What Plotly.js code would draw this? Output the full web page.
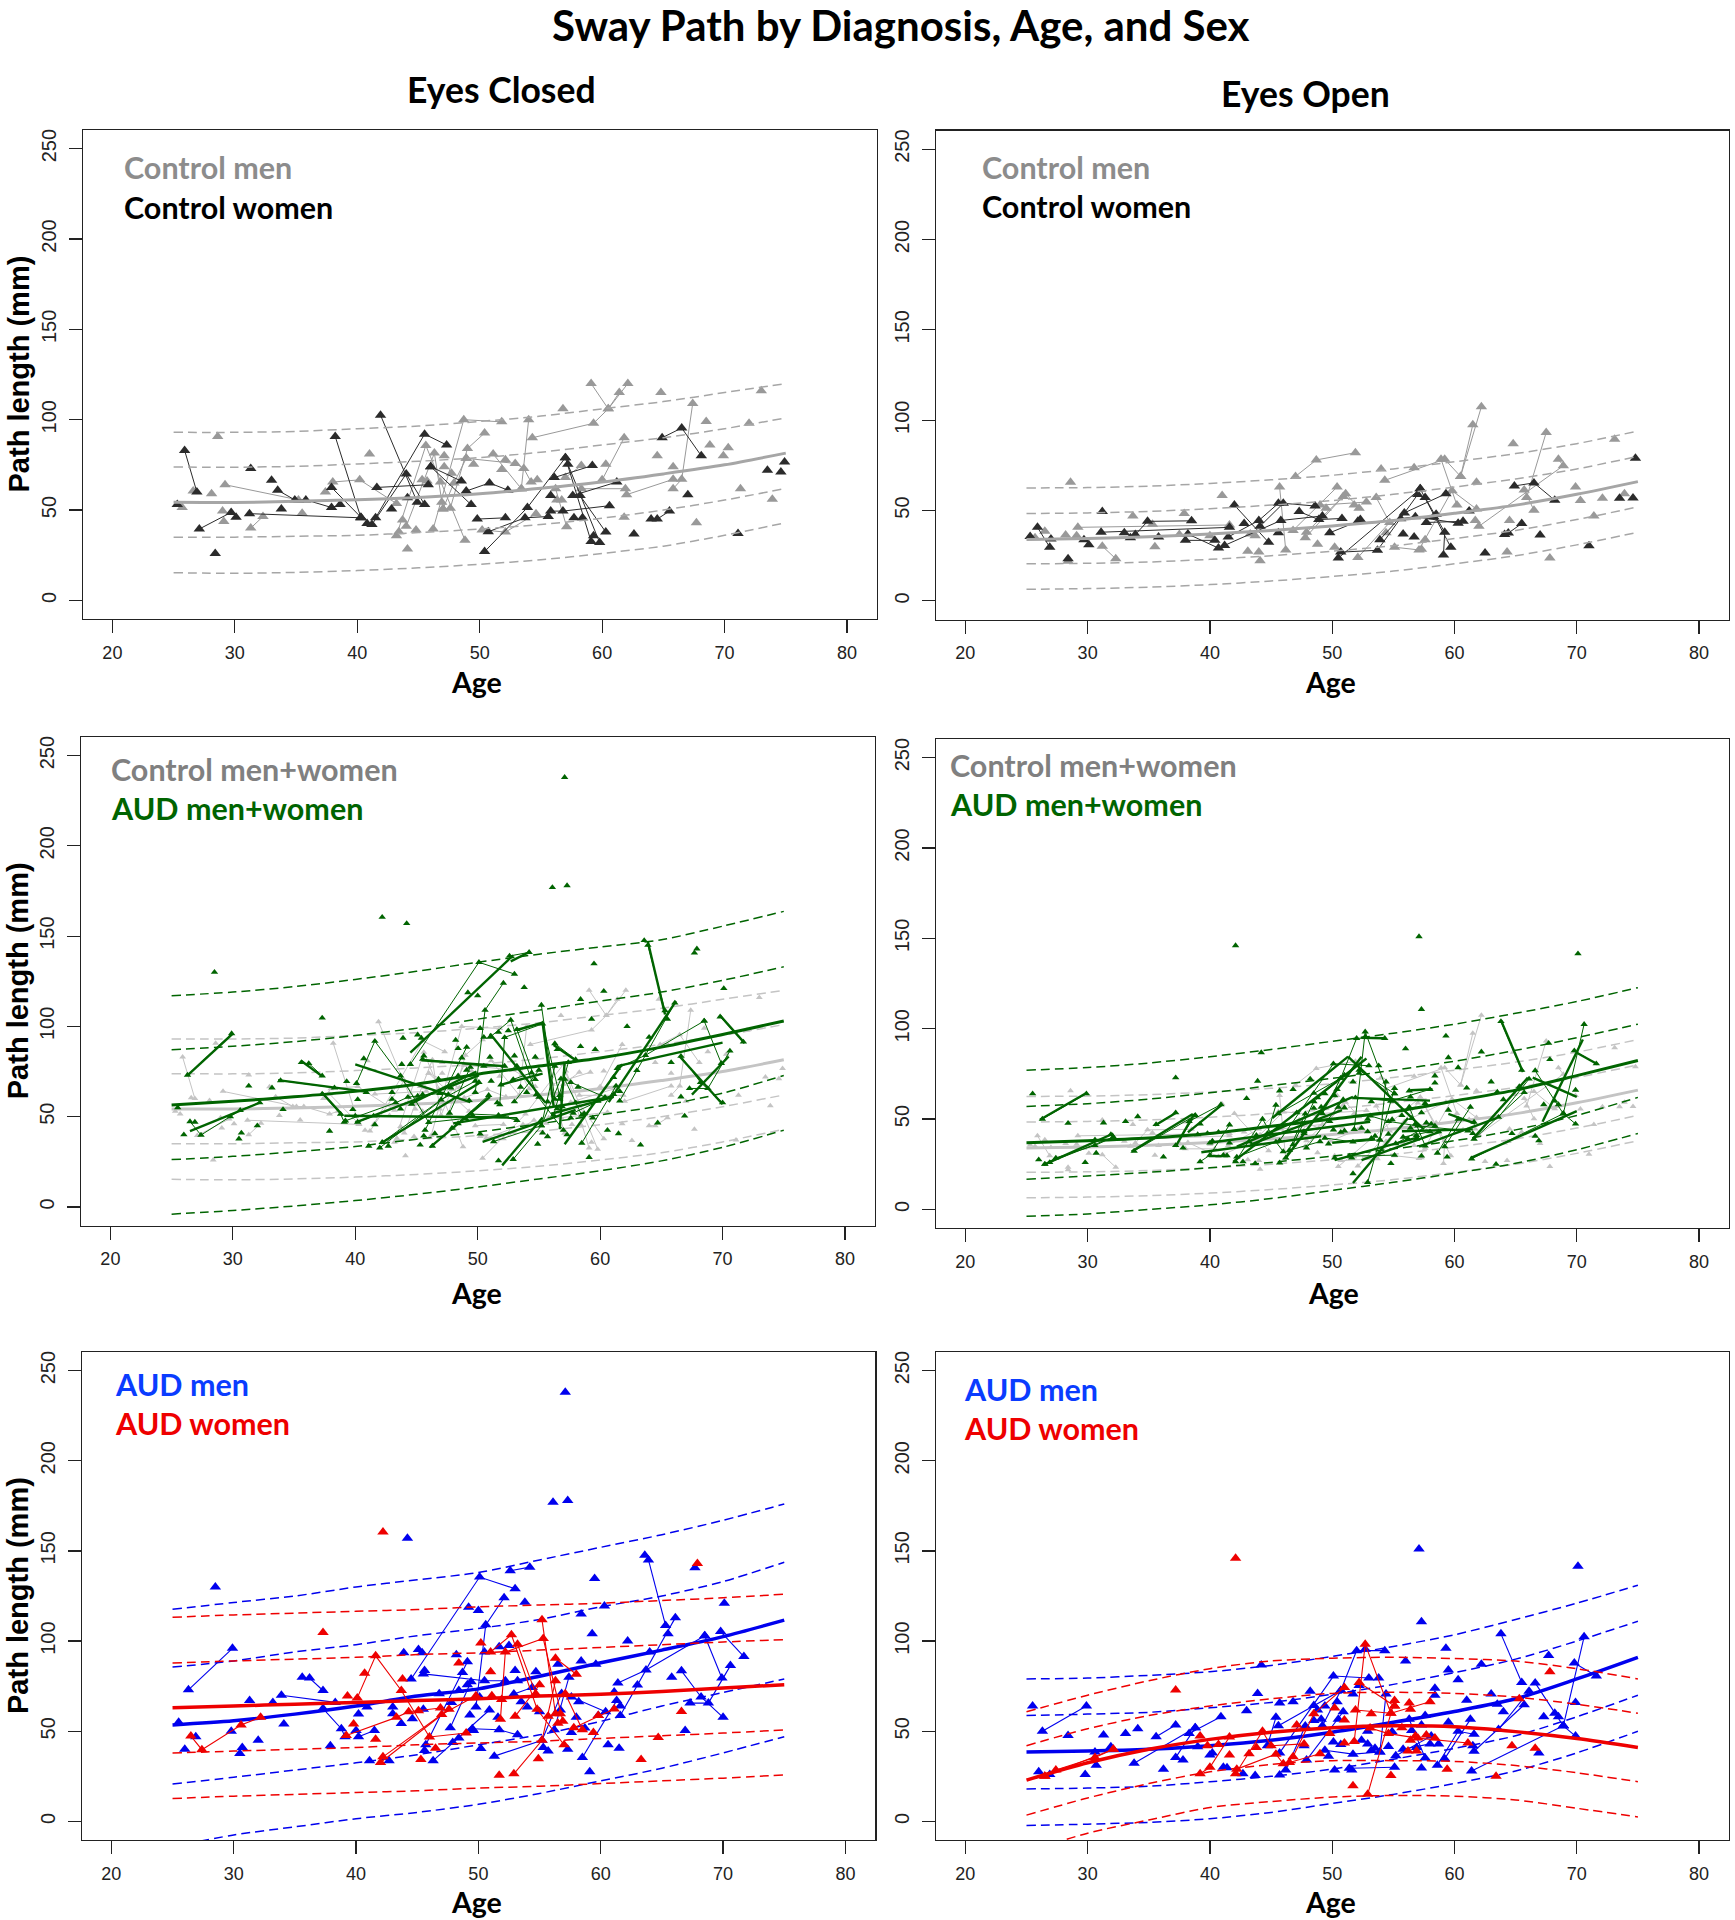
<!DOCTYPE html>
<html><head><meta charset="utf-8"><style>html,body{margin:0;padding:0;background:#fff}</style>
<script src="https://cdn.plot.ly/plotly-3.0.1.min.js"></script></head>
<body><div id="chart" style="width:1735px;height:1920px"></div>
<script>
// Curve sample ages and percentile-style fit curves
const curveAges=[25,30,35,40,45,50,55,60,65,70,75];
const ecCtl=[[93,93,93.5,95,96.5,99,102,106,110,115,120],[73.8,73.7,74.2,75.5,77,79,82,86,90,95,101],[54.3,54.2,54.8,55.7,57,59,62,65.5,70,75,81.5],[35,35,35.5,36,37.5,39.5,42,45.5,50,55.5,62],[15.3,15,15.5,16.5,18,20,22.5,26,30,36,43]];
const eoCtl=[[62.5,62.7,63.5,65,67,69.5,73,77,81.5,87,94],[48.3,48.7,49.5,51,53,55.5,59,63,67.5,73,80],[34,34.5,35.5,37,39,41.5,44.5,48.5,53,59,66],[20.5,20.8,21.5,23,25,27.5,30.5,34.5,39,45,52],[6.4,6.8,7.6,9,11,13.5,16.5,20.5,25,31,38]];
const ecAud=[[117,119,122,126,130.5,135.5,140,144,148,155.5,163.7],[87,89,91.5,95,99,104,109,114,119,125.5,133],[56.5,58.5,61,64,68,73.5,78,82.5,88.5,95.5,103],[26.2,28,30.5,33.5,37.5,41.5,46,51,56,63,72.8],[-4,-2,0.5,3.5,7,11,15.5,20,25.5,33,42.5]];
const eoAud=[[77,78.5,81,84.5,88.5,93,97.5,102.5,108.5,115,122.7],[57,58.5,61,64.5,68.5,72.5,77,82,88,95,102.5],[36.9,38,39.5,42,46,50,54,60,66,74,82.4],[16.7,18.5,20.5,23,26,29.5,33.5,38,44,52,62],[-3.8,-2.5,0,2.5,6,10.5,15,20,25.5,33,42]];
const ecMen=[[117.6,121.4,125,130,134,138,145,152,159,167,176],[85.6,89,94,98,103,107,112,119,125,133,143.7],[53.5,55.8,59.5,64,69.5,73.5,80.5,88,95,102.5,111.6],[20.7,24.5,28.5,32.5,37,42.5,48,55.5,64,71.5,79],[-14,-7.5,-3,1.5,5,9.5,15.5,22.5,29.5,38,47]];
const ecWomen=[[113.2,114.5,115.5,116.5,117.5,119,120,121,122.5,124,126],[87.8,89,90,91,92.5,93.5,95,96.5,98,99.5,100.8],[63,64,65,66,67,68,69.5,70.5,72,74,75.8],[37.9,39,40,41,42.5,43.5,44.5,46,47.5,49,50.8],[12.7,14,15,16,17,18.5,19.5,21,22.5,24,25.8]];
const eoMen=[[79,79.5,81,83,86.5,91.5,97,103.5,112,121,131],[58.7,59.5,60.5,63,66,70.5,76,82.5,90,100,111],[38.5,39,40,42,45,49.5,55,61,68,79,91],[18,18.5,19.5,22,25,29,34.5,40.5,47.5,58,70],[-2.3,-1.5,-0.5,1.5,5,10,15,21,28,38,50]];
const eoWomen=[[60.8,70,78,84.7,89,90.5,91,90.3,88.9,84.7,79],[42,51.4,58.7,64,68,71,71.6,71,69,65,60],[22.9,32.5,40,45.5,49.5,52,53,52.5,49.8,46,41],[3.5,13,21,27.5,31.6,33.7,33.7,33.3,31,27,22],[-17,-6.5,0.8,7.7,11,13.5,14.4,14,11.9,7.3,2.5]];

// Eyes closed, control women
const ecCtlWomenPaths=[[[25.9,83],[26.9,60]],[[27.1,39.5],[29.7,48.7]],[[31.2,48],[40.3,45.7]],[[33.5,61],[34.9,55.6],[35.8,55.6],[37.9,51.4],[38.6,53]],[[38.2,90.7],[40.3,45.7]],[[37.9,62.5],[40.3,46]],[[41.9,102.5],[44.9,54.3]],[[41.2,42],[44,70],[45.5,53]],[[41.6,62.5],[45.8,64]],[[41.5,45.7],[45.5,92],[47.3,86]],[[46,74],[49.3,53]],[[46,74],[48.5,66]],[[48.9,60.5],[50.8,65],[52.3,61]],[[49.8,45],[52.1,45.7]],[[50.4,27],[53.9,51.4],[57,79]],[[50.7,38],[53.7,45.7],[55.6,46.4]],[[56.1,68],[59.2,74.6]],[[57,79],[59.1,32.6]],[[57.2,75.3],[59.8,32]],[[58.2,58],[60.3,37.8]],[[55.8,49.4],[56.8,49.4],[60.6,52.4]],[[57.6,58],[61.2,65.5]],[[64.9,90],[66.5,95.4],[68.1,80]],[[64,45],[64.5,45],[65.5,49.4]]];
const ecCtlWomenSolo=[[25.3,53],[28.4,26],[30.1,46],[31.3,73],[33,66.5],[33.8,50.6],[40.8,42.5],[42.8,50.6],[44.1,56.8],[55.8,58],[57.7,45.7],[58.4,45.7],[59.3,35.8],[62.6,36.8],[67,58.5],[71.1,37],[73.5,72],[74.6,71],[74.9,76.6]];
// Eyes closed, control men
const ecCtlMenPaths=[[[29.2,64],[35.2,55.6]],[[31.3,40],[32.3,46.4]],[[37.4,60],[38,65.5],[40.2,66.7],[43.2,53.6]],[[43.2,35.8],[45.6,85.7],[48.8,33.3]],[[44,41],[46.3,81.5],[47,50.6]],[[46.2,39.5],[48.7,100],[51.8,98.8]],[[47.6,51],[49,84],[50.4,92.6]],[[47,50.6],[47.9,65],[48.9,78.6]],[[50.2,39],[52.1,37.8],[54.6,48]],[[48.9,78.6],[52.9,75.8],[53.6,73],[54.2,65.5]],[[51.1,81],[53.4,61.8]],[[54,100],[53.4,61.8]],[[54.3,90],[59.3,98],[60.5,106],[62.1,120]],[[59.1,120],[60.5,106],[61.4,115]],[[60,66.7],[61.8,90]],[[62,58.5],[65.8,67]],[[61.9,61.8],[58.3,61.8]],[[65.8,61.8],[66.5,67],[67.4,109]],[[57,68],[58.3,74.6]],[[56.2,61.8],[57.1,40.8]]];
const ecCtlMenSolo=[[25.7,51.4],[26.6,60.5],[28.6,90.7],[28.1,59],[29,49.4],[29.1,43.7],[35.5,48.2],[41,81],[43.4,38],[43.7,44.5],[44.1,28.4],[44.8,39],[45.3,66.7],[45.7,66],[46.9,54.3],[46.8,65.5],[47.1,80],[47.1,74],[47.7,70.4],[49.5,75.3],[51.8,72.4],[52.1,77.8],[54.7,66.7],[56.3,55.6],[56.7,55.6],[56.8,106],[60.3,75.3],[61.8,46],[64.5,80],[64.8,115],[65.8,74],[67.7,43],[68.5,99],[68.8,86],[69.9,80],[70.3,84.5],[71.3,61.8],[72,98],[73,116],[73.9,56]];
// Eyes open, control women
const eoCtlWomenPaths=[[[25.9,40.7],[26.9,29.7]],[[27,34.3],[29.7,33.9]],[[31.1,38],[41.6,40.7]],[[33.9,36.7],[34.9,44],[38.5,44.3]],[[38.2,37],[40.7,29.2]],[[38,33.5],[40.4,33.5]],[[42,53],[44.8,32.4]],[[41.5,35.4],[44,44.5],[45.6,54]],[[41.2,30.7],[45.8,44.5],[49.2,47]],[[44.1,41.3],[46,54],[48.6,52.5]],[[47.3,49.4],[48.9,45],[50.8,45.6]],[[49.8,37.7],[52.1,44]],[[50.5,23.7],[57.2,62]],[[50.7,27],[53.7,28],[57,58.9]],[[53.9,33.9],[55.9,48.7],[59.3,59.3]],[[57.2,62],[59.7,29.7]],[[57.6,57.2],[59.2,38],[59.1,25.4]],[[55.6,45.5],[56.8,46.6],[60.3,43]],[[57.7,43.4],[60.7,44]],[[58.3,46.6],[61.2,49.8]],[[64.9,63.6],[66.5,65.3],[68.2,55.7]],[[64.1,36.7],[64.4,37.5],[65.5,42.8]]];
const eoCtlWomenSolo=[[25.3,35.6],[28.4,23.3],[30.1,31],[31.2,49.4],[33,37.7],[33.5,35],[35.8,35.4],[42.8,42.8],[45.6,37.7],[52.3,45],[55.8,37],[56.7,35.4],[58.5,48],[62.5,26.5],[67,36.4],[71,30.5],[73.5,56.8],[74.6,57],[74.8,79]];
// Eyes open, control men
const eoCtlMenPaths=[[[29.2,40.7],[41.6,42]],[[31.2,30.3],[32.3,23.3]],[[47,68.9],[48.7,78],[51.9,82]],[[45.7,63],[46.2,28.2]],[[46.8,39],[50.4,63]],[[47.9,38],[50.9,57.8]],[[47.8,35],[51.1,59.3],[52.2,51.3]],[[52.1,24],[54.7,43.4],[53.6,57.2]],[[49,53],[52.8,54.7]],[[54.3,66.7],[59.2,78.4],[60.5,68.9],[62.2,107.4]],[[60.5,68.9],[61.5,97.5]],[[58.9,78.4],[60.2,53]],[[55.1,29.7],[57.1,28.2],[59.8,61],[61.8,50.8]],[[62,41.3],[68.9,74.8],[68.5,78.4]],[[67.5,93.2],[65.9,57.2]],[[65.7,61.4],[66.5,50.2]]];
const eoCtlMenSolo=[[25.7,35],[26.5,38.5],[28.2,36.4],[28.4,22],[28.6,65.7],[29.1,36],[33.7,47],[35.3,42.4],[35.5,30],[37.5,36.7],[37.9,48.3],[40,36],[41,58.3],[43.1,27.5],[43.3,37],[43.7,36],[44,27],[44.1,22.2],[48.8,31.4],[49.5,51.3],[50.2,29.7],[51.8,53],[54,73],[54.4,37.7],[56.7,73.7],[57.3,28.6],[57.6,33.9],[61.8,65.7],[61.7,44.5],[64.3,27],[64.5,44.5],[64.8,86.9],[67.8,23.7],[69.9,63],[70.3,55.5],[71.4,47],[72.1,56.8],[73.1,89.4],[73.9,59.3]];
// Eyes closed, AUD men
const ecAudMenPaths=[[[26.3,73],[29.9,96]],[[36.2,79.5],[37.3,72.6]],[[37.3,62.6],[38.8,51.4],[39.1,47]],[[33.9,70],[38.3,66]],[[40.2,47],[41.5,50.4]],[[44.5,79],[50.1,135.5],[53,129]],[[49.8,63.5],[50.6,109],[52.1,124]],[[45.5,81.8],[50.5,78],[52.2,78]],[[46.3,33.7],[50.9,61.8]],[[52.6,139],[54.2,141]],[[49.5,51.4],[51.7,50.8],[53.2,48]],[[52.9,70.6],[54.4,74.3]],[[63.9,145],[65.3,108.7]],[[61.4,76.8],[63.7,84],[68.5,103]],[[66.1,113],[61.6,58.7]],[[58.5,35.4],[61.3,67]],[[66.6,83.5],[68.2,69],[70,57.7]],[[68.5,103],[69.9,79.5]],[[69.8,105.3],[71.7,91.4]],[[67.3,65.6],[68.8,65.6],[70.6,86.4]],[[51.3,36.2],[55.2,45],[56.8,71]],[[57.4,80],[56.2,50.8]],[[57.6,69],[60.4,60.8]],[[45.7,42.5],[49.1,88.5]],[[47.7,52],[49.4,77.4]]];
const ecAudMenSolo=[[25.5,55],[26,40],[26.9,47],[28.5,130],[29.8,50],[30.7,41],[30.5,37.7],[31.3,67],[32,45],[33.2,66],[34.1,54],[35.6,80],[37.9,42],[40,50.4],[40.2,59.5],[40.9,63.5],[41.1,33.7],[42.7,33.7],[43,63.5],[43,59.7],[43.7,54.3],[43.9,93.5],[44.2,157],[45.1,95.3],[45.4,93.5],[44.6,57],[45.5,62.2],[45.6,39.3],[45.6,83.7],[46.8,70.8],[47.8,66],[47.9,43.7],[48.4,46.2],[48.2,92.4],[48.4,72.6],[48.7,82.6],[49.2,118.7],[49.3,59],[49.1,75.8],[49.6,50.4],[50,117],[50.2,40.4],[50.1,69],[50.5,94],[51.6,57.7],[51.7,96.8],[52.5,97.6],[53,83.7],[53.2,78],[53.5,66.4],[53.8,121.6],[54,63.5],[54.7,83],[55,60.8],[55.3,41],[55.7,39],[56.1,177],[57.1,238],[57.3,178],[56.5,87.2],[56.7,61.8],[57.3,40],[57.6,49.3],[58,57.7],[58.2,66.4],[58.4,88.9],[58.4,115],[58.7,51.8],[59.1,27.5],[59.3,104],[59.5,134.7],[59.6,87.2],[59.8,58.7],[60.3,119.5],[60.6,42.5],[61.1,71.8],[61.5,40.6],[61.6,64],[62.2,100],[63,75.6],[63.6,147.6],[64,94],[65.5,104],[65.8,80],[66.9,50.4],[67.7,140.7],[70.1,121]];
// Eyes closed, AUD women
const ecAudWomenPaths=[[[26.5,47.3],[27.4,39.8],[30.6,53.5],[32.2,57.7]],[[39.2,47.7],[43.3,57.7],[44.3,60.8],[45.1,61.4],[46.9,62.9]],[[40.1,68.5],[41.6,91.8],[43.7,72.6],[46,46.8],[49,49]],[[42.2,35.8],[47,59.3],[49.8,69.7]],[[42,32.7],[47.6,62.2]],[[51,94],[52.7,103.5],[54.8,62.2],[57,42.5]],[[53.2,98.3],[54.7,70.6]],[[51.8,56.6],[52.2,93.9],[55.3,101.4],[56.9,55.6]],[[55.2,111.8],[56.3,59.7]],[[52.9,26.4],[55.2,45],[56.3,78]],[[53,58.3],[55,75.8]],[[56.3,90.5],[58,81.6]],[[57.8,52],[61.1,62.4]],[[57.1,70.8],[58.5,50.8]]];
const ecAudWomenSolo=[[37.3,104.7],[39.3,69.5],[39.8,54],[40.7,82.2],[41.6,45.6],[42.2,160.5],[43.8,79],[45.3,34.3],[46.5,40.6],[48.4,87.8],[50.2,98.9],[51,83],[51.1,69.7],[51.7,25.6],[51.9,67.6],[54.9,34.8],[55.7,58.3],[56.5,54.5],[56.7,59.7],[59.4,49.3],[59.8,58.7],[63.3,34.3],[64.7,46.6],[66.6,61],[67.9,143]];
// Eyes open, AUD men
const eoAudMenPaths=[[[26.3,50],[29.9,64]],[[35.6,47],[37.2,53.5]],[[33.8,32.3],[38.8,52]],[[37.2,35.4],[38.8,52]],[[38.3,48.7],[40.9,58]],[[44.7,42],[45.4,57.7]],[[46.2,28.5],[47.8,52.9]],[[45.7,38],[50.1,80.6],[53,79.5]],[[45.6,53],[48.5,64.3],[50.7,72.6],[52,94.7],[54.3,94.7]],[[49.2,53],[50.7,72.6]],[[47.9,34],[50.9,60.8]],[[49.4,39.5],[51.7,37.3],[53.9,38.5]],[[51.4,29.5],[55.1,30]],[[53.9,38.5],[54.4,70.6]],[[55.2,36.4],[58.1,47.3]],[[55.8,40],[58,43]],[[56.3,56.6],[57.6,35.2]],[[58.6,31.2],[60.3,50],[61.6,48.3]],[[59.2,34.8],[61.3,56.6]],[[61.4,28],[68.9,53]],[[61.6,38.9],[65.7,64.7]],[[63.6,51],[66.1,72.2]],[[63.8,104],[65.5,77]],[[66.6,76.8],[68.9,53],[69.9,47.3]],[[69.8,87.8],[71.6,80.6]],[[70.6,102.4],[68.9,53]]];
const eoAudMenSolo=[[25.5,64],[26,27.5],[26.9,26],[28.4,47.7],[29.8,26],[30.6,38.5],[30.7,31.2],[31.3,47.9],[31.9,41.4],[33.1,48.7],[34.1,51.4],[36.2,29],[37.8,34],[39,41.4],[40,36.8],[40.2,37.9],[41.1,30],[41.4,29.8],[42.7,26.4],[43,61.4],[43.7,25.4],[43.9,71],[44.2,86.8],[45.7,25.8],[45.7,65.6],[46.8,66.4],[47.7,42],[48.2,72.2],[48.5,56],[48.8,61.8],[49.1,56.6],[49.4,64],[49.7,36.2],[50.1,44],[50.2,28.5],[50.4,66.4],[50.5,56.6],[50.7,42.7],[51.6,28.5],[51.7,70.6],[52.2,75.4],[52.4,45],[52.7,95.5],[52.9,50],[52.9,43],[53.2,39.3],[53.5,40.6],[53.8,79.5],[54.6,41.6],[54.9,49.7],[56,88.9],[56.5,50.4],[56.9,41],[57.1,151],[57.3,110.7],[57.3,53.5],[57.3,29.6],[57.6,58.7],[58.4,73.9],[58.4,70],[58.7,43],[59.3,96],[59.5,55],[59.5,84],[60.3,78.5],[61,67.2],[61.5,42],[62.2,87.2],[63,70.6],[63.5,65],[64,60.8],[66.9,38],[67.3,58],[67.7,92],[68.2,60],[68.5,58],[69.9,66],[70.1,141.5]];
// Eyes open, AUD women
const eoAudWomenPaths=[[[26.5,25],[27.4,28.5],[30.6,35.4],[32.1,40]],[[26.5,25],[32.1,40]],[[39.2,26.4],[40,30],[41.6,46.8]],[[42.1,26.4],[44.3,50],[45,42],[47.7,43]],[[42.2,29],[45.4,37.3],[46,32]],[[46.5,32.7],[49,37.5]],[[46.8,35.8],[48.5,59.7],[51,74.3]],[[51.8,44.3],[52.7,98.3],[54.8,60]],[[52.2,77],[55.1,64]],[[52.9,15],[55.1,67]],[[51.9,61.8],[54.8,60],[58,66.4]],[[53.1,51.8],[54.6,48.7],[57,46.2],[61.1,43.5]]];
const eoAudWomenSolo=[[37.2,72.9],[39.2,47.3],[39.8,42],[40.7,42.7],[41.6,36.8],[42.1,146],[43.2,37.5],[43.8,41],[47.1,53.5],[49.8,48.7],[50.2,62.9],[51,43.5],[51,56.2],[51.7,19.8],[53.2,59.7],[54.8,25.4],[55.1,64],[55.7,52],[56.2,39],[56.3,65.6],[56.4,62.2],[56.4,45],[56.8,47.3],[56.9,39],[57.7,47.9],[58.4,46.2],[59.4,29],[63.4,25],[64.7,42],[65.3,68],[66.6,40.6],[67.8,83]];
// Heavy within-subject segments in the AUD men+women panels
const ecAudTrends=[[[26.3,72.8],[30,96]],[[26.5,42],[32.3,58]],[[33.7,70.2],[41,63.7]],[[35.6,80.8],[37.3,72.3]],[[37.3,63.2],[39,50.5]],[[39.1,50.5],[53.2,49.5]],[[40,79],[49.4,58]],[[40,46.7],[50.1,72.8]],[[42.2,35.7],[50.1,68.5]],[[44.5,85.4],[52.9,139.4]],[[45.4,81.2],[52.2,78]],[[44.5,57],[49.9,75]],[[46.1,33],[51,61]],[[48,46.3],[61.1,61]],[[50.4,36],[58,53.7]],[[52,23],[55.3,49.5]],[[52.7,136],[54.3,141.5]],[[51,96],[55.5,58]],[[51.8,67.5],[55.3,73.8]],[[53.2,98],[55.3,102]],[[55.3,102],[56.2,56]],[[56.2,89.7],[58,81.2]],[[57.1,34.7],[61.8,79]],[[56,51.6],[61.1,61]],[[61.4,78],[70,91]],[[63.9,146.8],[65.3,106.6]],[[60.7,58],[66.2,114]],[[66.5,83.3],[70,56.9]],[[67.5,62.2],[70.5,83.3]],[[69.8,106],[71.8,90.7]],[[57.1,80],[56.7,43]]];
const eoAudTrends=[[[26.1,49.6],[29.9,64.4]],[[26.4,24.6],[32.1,42]],[[33.6,32],[38.6,52.8]],[[35.5,46.4],[37.3,53.8]],[[37.2,34.7],[38.7,52.8]],[[38.2,42.6],[41,58]],[[39.3,31.6],[49.1,40.5]],[[39.9,36.9],[53.1,48.5]],[[39.9,29.5],[41.5,29.5]],[[41.9,26.3],[52.8,83.5]],[[42.2,34.7],[51.7,62.3]],[[43.3,35.8],[50.8,54.9]],[[46.2,28.4],[52.4,84.5]],[[45.1,50.6],[51.3,84.5]],[[50.2,27.3],[57.1,40]],[[50,36.9],[53.5,39]],[[51.7,14.6],[56.2,50.6]],[[52.4,27.3],[58.9,43.2]],[[51.7,61.7],[58,60.2]],[[51.3,84.5],[57.5,44.3]],[[52.4,95],[54.2,94.7]],[[56.4,65.9],[58.2,66.5]],[[55.7,43.2],[61.5,44.3]],[[57.1,34.7],[63.5,50.6]],[[61.3,28.4],[70,54.4]],[[63.8,104.7],[65.6,76]],[[61.5,39],[66,72.9]],[[66.4,72.9],[70,62.3]],[[67.2,48.5],[70.5,94]],[[70,86.7],[71.7,80.3]],[[59.5,52.8],[61.7,47.5]]];

const xTickVals=[20,30,40,50,60,70,80];
const yTickVals=[0,50,100,150,200,250];
const W=1735,H=1920;
const boxes=[[83,877,130,619],[936,1729,130.5,619.5],[81,875,737,1225.5],[936,1729,739,1228],[82,875.4,1352,1840],[936,1729,1352,1840]];
const ageLabelAt=[[476.5,682],[1330,682],[476.5,1293],[1333.6,1293],[476.5,1902],[1330,1902]];
const LABEL='Lato, "Noto Sans", sans-serif';
const TICK='"Liberation Sans", Arial, sans-serif';
const dark='#2b2b2b',grey='#999999',pale='#c4c4c4',green='#006400',blue='#0000ee',red='#ee0000';

function flat(paths,solo){
  const xs=[],ys=[];
  paths.forEach(p=>{p.forEach(q=>{xs.push(q[0]);ys.push(q[1]);});xs.push(null);ys.push(null);});
  solo.forEach(q=>{xs.push(q[0]);ys.push(q[1]);xs.push(null);ys.push(null);});
  return {x:xs,y:ys};
}
const traces=[];
function addData(i,paths,solo,color,size,lw,name){
  const d=flat(paths,solo);
  traces.push({x:d.x,y:d.y,name:name,xaxis:'x'+(i+1),yaxis:'y'+(i+1),type:'scatter',mode:'lines+markers',connectgaps:false,
    line:{color:color,width:lw},marker:{symbol:'triangle-up',size:size,color:color,line:{width:0}},hoverinfo:'x+y'});
}
function addTrends(i,paths,color,lw,name){
  const d=flat(paths,[]);
  traces.push({x:d.x,y:d.y,name:name,xaxis:'x'+(i+1),yaxis:'y'+(i+1),type:'scatter',mode:'lines',connectgaps:false,line:{color:color,width:lw},hoverinfo:'skip'});
}
function addCurves(i,set,color,dashW,midW,name){
  set.forEach((c,k)=>{
    const mid=k===2;
    traces.push({x:curveAges,y:c,name:name,xaxis:'x'+(i+1),yaxis:'y'+(i+1),type:'scatter',mode:'lines',
      line:{color:color,width:mid?midW:dashW,dash:mid?'solid':'9px,5px',shape:'spline',smoothing:0.8},hoverinfo:'skip'});
  });
}
const M=10;
// panel 1 & 2: controls by sex
addData(0,ecCtlMenPaths,ecCtlMenSolo,grey,M,1,'Control men');
addData(0,ecCtlWomenPaths,ecCtlWomenSolo,dark,M,1,'Control women');
addCurves(0,ecCtl,'#a6a6a6',1.5,3,'Control fit');
addData(1,eoCtlMenPaths,eoCtlMenSolo,grey,M,1,'Control men');
addData(1,eoCtlWomenPaths,eoCtlWomenSolo,dark,M,1,'Control women');
addCurves(1,eoCtl,'#a6a6a6',1.5,3,'Control fit');
// panel 3 & 4: controls versus AUD
addData(2,ecCtlMenPaths.concat(ecCtlWomenPaths),ecCtlMenSolo.concat(ecCtlWomenSolo),pale,6,1,'Control men+women');
addCurves(2,ecCtl,pale,1.5,3,'Control fit');
addData(2,ecAudMenPaths.concat(ecAudWomenPaths),ecAudMenSolo.concat(ecAudWomenSolo),green,6.5,1,'AUD men+women');
addTrends(2,ecAudTrends,green,2.4,'AUD subject trend');
addCurves(2,ecAud,green,1.5,3,'AUD fit');
addData(3,eoCtlMenPaths.concat(eoCtlWomenPaths),eoCtlMenSolo.concat(eoCtlWomenSolo),pale,6,1,'Control men+women');
addCurves(3,eoCtl,pale,1.5,3,'Control fit');
addData(3,eoAudMenPaths.concat(eoAudWomenPaths),eoAudMenSolo.concat(eoAudWomenSolo),green,6.5,1,'AUD men+women');
addTrends(3,eoAudTrends,green,2.4,'AUD subject trend');
addCurves(3,eoAud,green,1.5,3,'AUD fit');
// panel 5 & 6: AUD by sex
addData(4,ecAudMenPaths,ecAudMenSolo,blue,M,1.1,'AUD men');
addCurves(4,ecMen,blue,1.5,3.5,'AUD men fit');
addData(4,ecAudWomenPaths,ecAudWomenSolo,red,M,1.1,'AUD women');
addCurves(4,ecWomen,red,1.5,3.5,'AUD women fit');
addData(5,eoAudMenPaths,eoAudMenSolo,blue,M,1.1,'AUD men');
addCurves(5,eoMen,blue,1.5,3.5,'AUD men fit');
addData(5,eoAudWomenPaths,eoAudWomenSolo,red,M,1.1,'AUD women');
addCurves(5,eoWomen,red,1.5,3.5,'AUD women fit');

const layout={width:W,height:H,autosize:false,margin:{l:0,r:0,t:0,b:0},showlegend:false,paper_bgcolor:'#fff',plot_bgcolor:'#fff',annotations:[]};
boxes.forEach((b,i)=>{
  const s=i+1;
  layout['xaxis'+s]={domain:[b[0]/W,b[1]/W],anchor:'y'+s,range:[17.6,82.45],tickmode:'array',tickvals:xTickVals,ticks:'outside',ticklen:13,tickwidth:1.2,tickcolor:'#222',
    showgrid:false,zeroline:false,showline:true,mirror:true,linecolor:'#222',linewidth:1.3,ticklabelstandoff:4,tickfont:{family:TICK,size:18,color:'#222'}};
  layout['yaxis'+s]={domain:[1-b[3]/H,1-b[2]/H],anchor:'x'+s,range:[-10.3,260.3],tickmode:'array',tickvals:yTickVals,ticks:'outside',ticklen:13,tickwidth:1.2,tickcolor:'#222',tickangle:-90,
    showgrid:false,zeroline:false,showline:true,mirror:true,linecolor:'#222',linewidth:1.3,ticklabelstandoff:5,tickfont:{family:TICK,size:20,color:'#222'}};
});
function note(t,px,py,size,color,anchor,family,angle){
  layout.annotations.push({text:'<b>'+t+'</b>',xref:'paper',yref:'paper',x:px/W,y:1-py/H,xanchor:anchor||'left',yanchor:'middle',showarrow:false,textangle:angle||0,font:{family:family||LABEL,size:size,color:color}});
}
note('Sway Path by Diagnosis, Age, and Sex',901,25,42,'#000','center');
note('Eyes Closed',501,89,35.5,'#000','center');
note('Eyes Open',1305,94,35.5,'#000','center');
const LG=30.5;
note('Control men',121.5,167,LG,'#8c8c8c');note('Control women',121.5,206.5,LG,'#000');
note('Control men',980,167,LG,'#8c8c8c');note('Control women',980,206,LG,'#000');
note('Control men+women',108.5,769,LG,'#808080');note('AUD men+women',108.5,808,LG,green);
note('Control men+women',948,765,LG,'#808080');note('AUD men+women',948,804,LG,green);
note('AUD men',113,1384,LG,'#0a3cff');note('AUD women',113,1423,LG,red);
note('AUD men',962,1389,LG,'#0a3cff');note('AUD women',962,1428,LG,red);
ageLabelAt.forEach(a=>note('Age',a[0],a[1],28.5,'#000','center'));
[0,2,4].forEach(i=>note('Path length (mm)',18,(boxes[i][2]+boxes[i][3])/2,29,'#000','center',TICK,-90));
Plotly.newPlot('chart',traces,layout,{displayModeBar:false,staticPlot:true});
</script></body></html>
